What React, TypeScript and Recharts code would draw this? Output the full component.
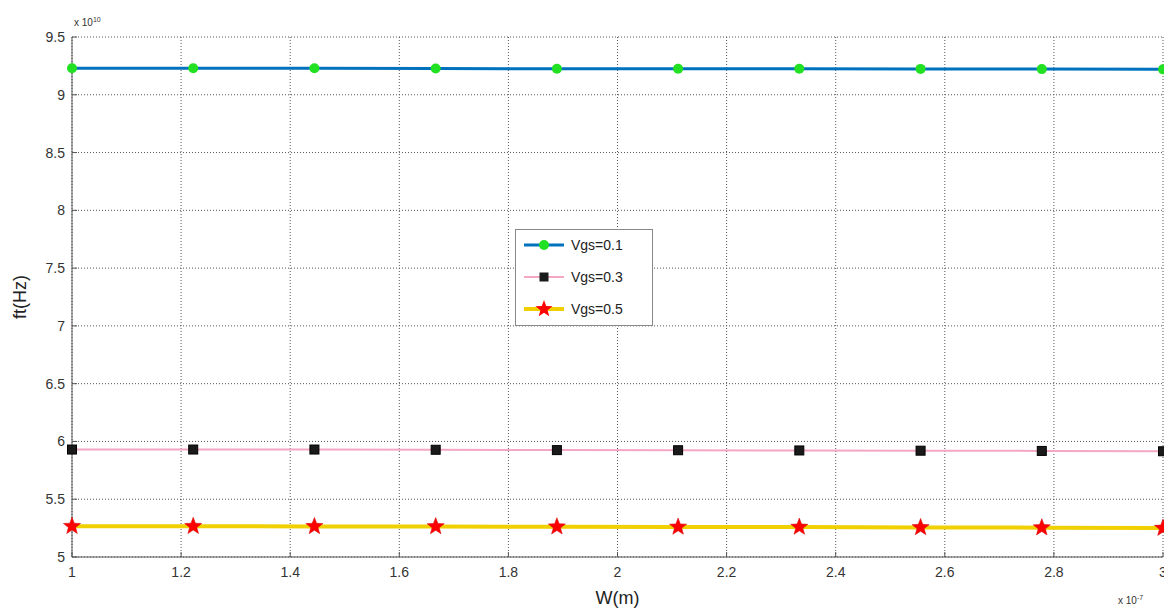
import React from "react";
import {
  CartesianGrid,
  Line,
  LineChart,
  XAxis,
  YAxis,
} from "recharts";

const W_VALUES = [1, 1.2222, 1.4444, 1.6667, 1.8889, 2.1111, 2.3333, 2.5556, 2.7778, 3];
const VGS_01 = [9.23, 9.23, 9.23, 9.228, 9.225, 9.225, 9.225, 9.224, 9.222, 9.22];
const VGS_03 = [5.93, 5.93, 5.93, 5.928, 5.925, 5.924, 5.922, 5.92, 5.918, 5.915];
const VGS_05 = [5.266, 5.266, 5.265, 5.264, 5.262, 5.26, 5.259, 5.256, 5.254, 5.25];
const X_TICKS = [1, 1.2, 1.4, 1.6, 1.8, 2, 2.2, 2.4, 2.6, 2.8, 3];
const Y_TICKS = [5, 5.5, 6, 6.5, 7, 7.5, 8, 8.5, 9, 9.5];

const data = W_VALUES.map((w, i) => ({
  w,
  v1: VGS_01[i],
  v3: VGS_03[i],
  v5: VGS_05[i],
}));

const FONT = "Arial, 'Liberation Sans', sans-serif";
const tickStyle = { fill: "#333", fontSize: 14, fontFamily: FONT };

function starPoints(cx: number, cy: number, r: number) {
  const pts: string[] = [];
  for (let k = 0; k < 10; k++) {
    const rad = k % 2 === 0 ? r : r * 0.42;
    const a = -Math.PI / 2 + (k * Math.PI) / 5;
    pts.push(`${cx + rad * Math.cos(a)},${cy + rad * Math.sin(a)}`);
  }
  return pts.join(" ");
}

const Star = (props: any) => {
  const { cx, cy } = props;
  if (cx == null || cy == null) return null;
  return <polygon points={starPoints(cx, cy, 9)} fill="#ff0000" stroke="#d00000" strokeWidth={0.5} />;
};

const Square = (props: any) => {
  const { cx, cy } = props;
  if (cx == null || cy == null) return null;
  return <rect x={cx - 4.5} y={cy - 4.5} width={9} height={9} fill="#1a1a1a" stroke="#000" />;
};

const Dot = (props: any) => {
  const { cx, cy } = props;
  if (cx == null || cy == null) return null;
  return <circle cx={cx} cy={cy} r={5} fill="#22e022" />;
};

const legendItems = [
  { label: "Vgs=0.1", color: "#0072bd", width: 3, marker: <circle cx={28} cy={0} r={5} fill="#22e022" /> },
  { label: "Vgs=0.3", color: "#f4a6c4", width: 2, marker: <rect x={23.5} y={-4.5} width={9} height={9} fill="#1a1a1a" /> },
  { label: "Vgs=0.5", color: "#f0d000", width: 4, marker: <polygon points={starPoints(28, 0, 9)} fill="#ff0000" /> },
];

const LegendBox = () => (
  <div
    style={{
      position: "absolute",
      left: 507,
      top: 221,
      width: 138,
      height: 97,
      border: "1px solid #888",
      background: "#fff",
      boxSizing: "border-box",
    }}
  >
    <svg width={136} height={95} style={{ display: "block" }}>
      {legendItems.map((it, i) => (
        <g key={it.label} transform={`translate(0, ${15 + i * 32})`}>
          <line x1={8} x2={48} y1={0} y2={0} stroke={it.color} strokeWidth={it.width} />
          {it.marker}
          <text x={55} y={5} fontSize={14} fontFamily={FONT} fill="#222">
            {it.label}
          </text>
        </g>
      ))}
    </svg>
  </div>
);

export default function App() {
  return (
    <div style={{ position: "relative", width: 1164, height: 600 }}>
      <LineChart
        width={1164}
        height={600}
        data={data}
        margin={{ top: 29, right: 9, bottom: 0, left: 0 }}
      >
        <CartesianGrid
          stroke="#555"
          strokeDasharray="1 2"
          horizontalValues={Y_TICKS}
          verticalValues={X_TICKS}
        />
        <XAxis
          dataKey="w"
          type="number"
          domain={[1, 3]}
          ticks={X_TICKS}
          height={51}
          stroke="#555"
          tick={tickStyle}
          tickSize={-5}
          tickMargin={15}
          label={{
            value: "W(m)",
            position: "insideBottom",
            offset: 4,
            style: { fill: "#222", fontSize: 18, fontFamily: FONT },
          }}
        />
        <XAxis
          xAxisId="top"
          dataKey="w"
          type="number"
          domain={[1, 3]}
          ticks={X_TICKS}
          orientation="top"
          height={0}
          stroke="#555"
          tick={false}
          tickSize={-5}
        />
        <YAxis
          type="number"
          domain={[5, 9.5]}
          ticks={Y_TICKS}
          width={64}
          stroke="#555"
          tick={tickStyle}
          tickSize={-5}
          tickMargin={12}
          label={{
            value: "ft(Hz)",
            angle: -90,
            position: "insideLeft",
            offset: 12,
            style: { fill: "#222", fontSize: 18, fontFamily: FONT, textAnchor: "middle" },
          }}
        />
        <YAxis
          yAxisId="right"
          type="number"
          domain={[5, 9.5]}
          ticks={Y_TICKS}
          orientation="right"
          width={0}
          stroke="#555"
          tick={false}
          tickSize={-5}
        />
        <Line
          dataKey="v1"
          stroke="#0072bd"
          strokeWidth={3}
          dot={<Dot />}
          isAnimationActive={false}
        />
        <Line
          dataKey="v3"
          stroke="#f4a6c4"
          strokeWidth={2}
          dot={<Square />}
          isAnimationActive={false}
        />
        <Line
          dataKey="v5"
          stroke="#f0d000"
          strokeWidth={4}
          dot={<Star />}
          isAnimationActive={false}
        />
      </LineChart>
      <LegendBox />
      <div
        style={{
          position: "absolute",
          left: 66,
          top: 8,
          fontFamily: FONT,
          fontSize: 10,
          color: "#333",
        }}
      >
        x 10<sup style={{ fontSize: 7 }}>10</sup>
      </div>
      <div
        style={{
          position: "absolute",
          left: 1110,
          top: 586,
          fontFamily: FONT,
          fontSize: 10,
          color: "#333",
        }}
      >
        x 10<sup style={{ fontSize: 7 }}>-7</sup>
      </div>
    </div>
  );
}
